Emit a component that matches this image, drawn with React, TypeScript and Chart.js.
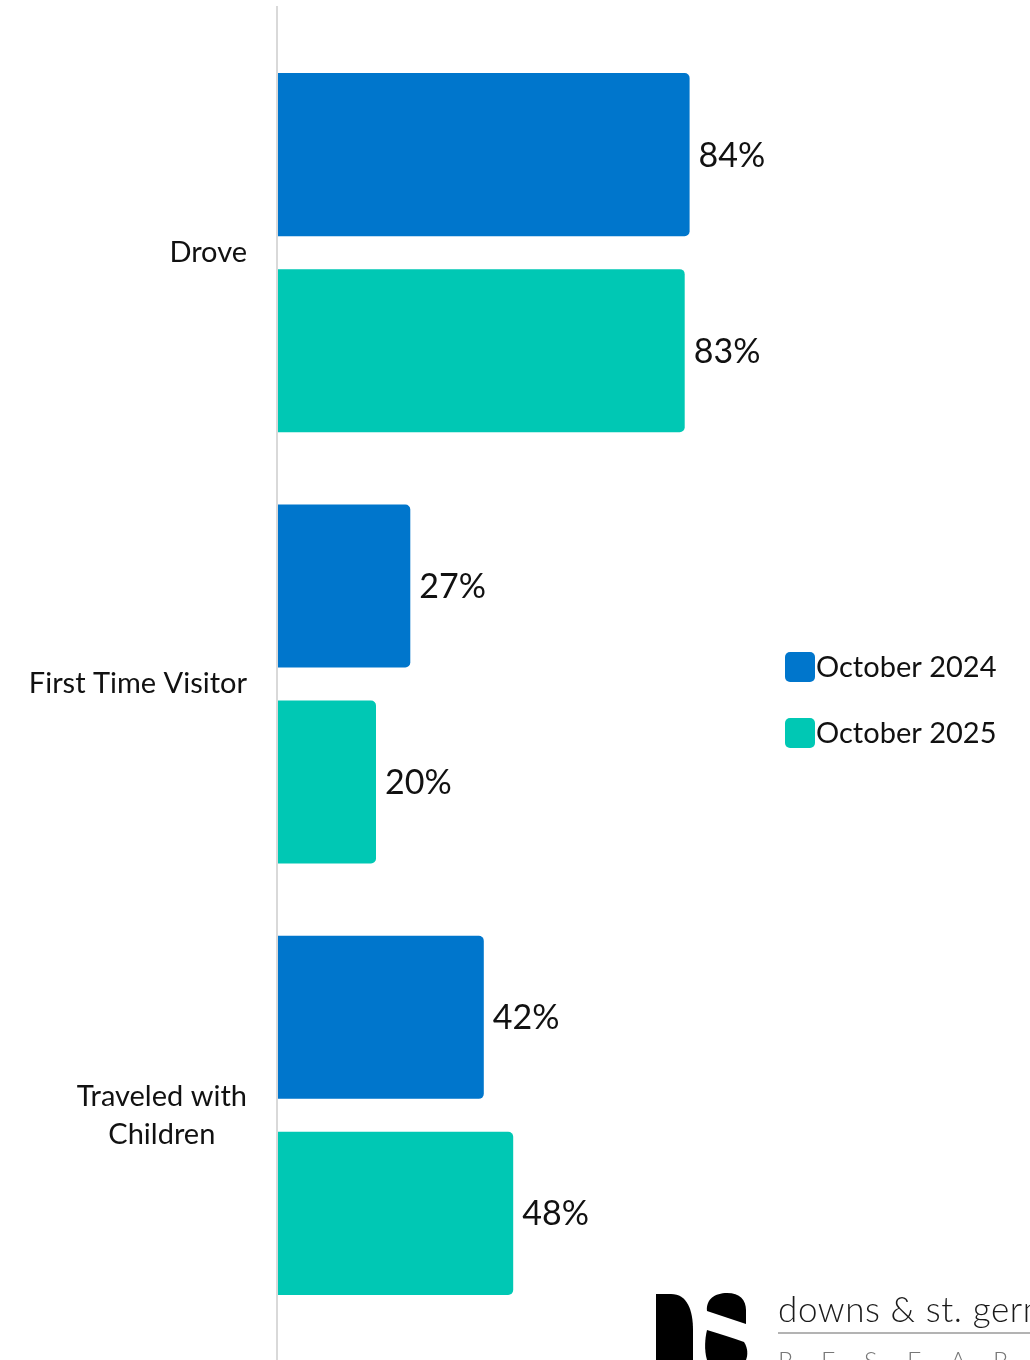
import React, { useEffect, useRef } from "react";
import { Chart, registerables } from "chart.js";

Chart.register(...registerables);

const categories: (string | string[])[] = ["Drove", "First Time Visitor", ["Traveled with", "Children"]];
const seriesNames = ["October 2024", "October 2025"];
const values2024 = [84, 27, 42];
const values2025 = [83, 20, 48];
const colors = ["#0076CC", "#00C8B4"];

const FONT = "Lato, 'Open Sans', sans-serif";

const overlayPlugin = {
  id: "overlay",
  afterDraw(chart: any) {
    const ctx = chart.ctx as CanvasRenderingContext2D;
    const area = chart.chartArea;
    const yScale = chart.scales.y;
    ctx.save();
    // axis line
    ctx.strokeStyle = "#d9d9d9";
    ctx.lineWidth = 2;
    ctx.beginPath();
    ctx.moveTo(area.left - 1, 6);
    ctx.lineTo(area.left - 1, chart.height);
    ctx.stroke();

    // category labels
    ctx.fillStyle = "#111111";
    ctx.font = `29px ${FONT}`;
    ctx.textBaseline = "middle";
    ctx.textAlign = "center";
    const right = area.left - 31;
    const lineH = 38;
    categories.forEach((c, i) => {
      const lines = Array.isArray(c) ? c : [c];
      const w = Math.max(...lines.map((l) => ctx.measureText(l).width));
      const cy = yScale.getPixelForValue(i);
      const cx = right - w / 2;
      lines.forEach((l, j) => {
        ctx.fillText(l, cx, cy + (j - (lines.length - 1) / 2) * lineH);
      });
    });

    // data labels
    ctx.font = `34px ${FONT}`;
    ctx.textAlign = "left";
    chart.data.datasets.forEach((ds: any, di: number) => {
      const meta = chart.getDatasetMeta(di);
      meta.data.forEach((bar: any, i: number) => {
        const p = bar.getProps(["x", "y"], true);
        ctx.fillText(`${ds.data[i]}%`, p.x + 9, p.y + 1);
      });
    });

    // legend
    const lx = 785;
    const ly = [667, 733];
    ctx.font = `29px ${FONT}`;
    chart.data.datasets.forEach((ds: any, di: number) => {
      ctx.fillStyle = ds.backgroundColor;
      ctx.beginPath();
      (ctx as any).roundRect(lx, ly[di] - 15, 30, 30, 5);
      ctx.fill();
      ctx.fillStyle = "#111111";
      ctx.fillText(ds.label, lx + 31, ly[di] + 1);
    });

    // logo
    ctx.fillStyle = "#000000";
    // D
    ctx.beginPath();
    ctx.moveTo(656, 1294);
    ctx.lineTo(671, 1294);
    ctx.bezierCurveTo(687, 1294, 693, 1310, 693, 1330);
    ctx.lineTo(693, 1360);
    ctx.lineTo(656, 1360);
    ctx.closePath();
    ctx.fill();
    // S upper blob
    ctx.beginPath();
    ctx.moveTo(707, 1311);
    ctx.bezierCurveTo(706, 1299, 715, 1293, 727, 1293);
    ctx.bezierCurveTo(740, 1293, 746, 1300, 746, 1310);
    ctx.lineTo(746, 1324);
    ctx.bezierCurveTo(733, 1320, 720, 1315, 707, 1311);
    ctx.closePath();
    ctx.fill();
    // S lower blob
    ctx.beginPath();
    ctx.moveTo(707, 1330);
    ctx.bezierCurveTo(720, 1334, 733, 1338, 744, 1342);
    ctx.bezierCurveTo(748, 1348, 748, 1355, 746, 1360);
    ctx.lineTo(707, 1360);
    ctx.bezierCurveTo(704, 1350, 705, 1338, 707, 1330);
    ctx.closePath();
    ctx.fill();
    // text
    ctx.fillStyle = "#1a1a1a";
    ctx.font = `300 35px ${FONT}`;
    (ctx as any).letterSpacing = "0.6px";
    ctx.textAlign = "left";
    ctx.textBaseline = "alphabetic";
    ctx.fillText("downs & st. germain", 778, 1322);
    (ctx as any).letterSpacing = "0px";
    ctx.strokeStyle = "#9a9a9a";
    ctx.lineWidth = 1.5;
    ctx.beginPath();
    ctx.moveTo(778, 1333);
    ctx.lineTo(1030, 1333);
    ctx.stroke();
    ctx.fillStyle = "#777777";
    ctx.font = `300 25px ${FONT}`;
    const letters = "RESEARCH".split("");
    letters.forEach((ch, k) => {
      ctx.fillText(ch, 778 + k * 43, 1370);
    });
    ctx.restore();
  },
};

export default function App() {
  const ref = useRef<HTMLCanvasElement | null>(null);
  useEffect(() => {
    if (!ref.current) return;
    const chart = new Chart(ref.current, {
      type: "bar",
      data: {
        labels: categories as any,
        datasets: [
          {
            label: seriesNames[0],
            data: values2024,
            backgroundColor: colors[0],
            borderRadius: 5,
            borderSkipped: "start",
            categoryPercentage: 0.909,
            barPercentage: 0.832,
          },
          {
            label: seriesNames[1],
            data: values2025,
            backgroundColor: colors[1],
            borderRadius: 5,
            borderSkipped: "start",
            categoryPercentage: 0.909,
            barPercentage: 0.832,
          },
        ],
      },
      options: {
        indexAxis: "y",
        responsive: false,
        animation: false,
        layout: { padding: { top: 37, bottom: 29, left: 0, right: 262 } },
        plugins: {
          legend: { display: false },
          tooltip: { enabled: false },
        },
        scales: {
          x: { display: false, min: 0, max: 100 },
          y: {
            grid: { display: false, drawTicks: false },
            border: { display: false },
            ticks: { display: false },
            afterFit(scale: any) {
              scale.width = 278;
            },
          },
        },
      },
      plugins: [overlayPlugin],
    });
    return () => chart.destroy();
  }, []);
  return (
    <div style={{ position: "fixed", left: 0, top: 0, width: 1030, height: 1360, background: "#fff" }}>
      <canvas ref={ref} width={1030} height={1360} style={{ display: "block" }} />
    </div>
  );
}
